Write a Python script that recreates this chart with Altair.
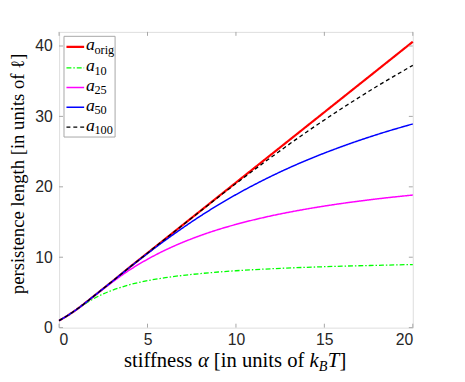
import altair as alt
import pandas as pd

alpha = [0, 0.5, 1, 1.5, 2, 2.5, 3, 4, 5, 6, 7, 8, 9, 10, 12, 14, 16, 18, 20]
a_orig = [1.0, 1.75, 2.6, 3.55, 4.55, 5.55, 6.55, 8.6, 10.6, 12.6, 14.6, 16.6, 18.6, 20.6, 24.6, 28.6, 32.6, 36.6, 40.6]
a_10 = [1.0, 1.75, 2.58, 3.42, 4.17, 4.79, 5.30, 6.10, 6.67, 7.09, 7.42, 7.68, 7.90, 8.08, 8.36, 8.57, 8.73, 8.85, 8.96]
a_25 = [1.0, 1.75, 2.6, 3.55, 4.54, 5.51, 6.45, 8.21, 9.71, 11.01, 12.12, 13.09, 13.93, 14.66, 15.88, 16.85, 17.64, 18.29, 18.83]
a_50 = [1.0, 1.75, 2.6, 3.55, 4.55, 5.55, 6.55, 8.58, 10.53, 12.40, 14.18, 15.86, 17.43, 18.89, 21.51, 23.78, 25.73, 27.44, 28.93]
a_100 = [1.0, 1.75, 2.6, 3.55, 4.55, 5.55, 6.55, 8.6, 10.6, 12.60, 14.59, 16.57, 18.53, 20.46, 24.21, 27.79, 31.15, 34.31, 37.25]

series_names = ["orig", "10", "25", "50", "100"]
series_values = [a_orig, a_10, a_25, a_50, a_100]
series_colors = ["#ff0000", "#00ff00", "#ff00ff", "#0000ff", "#000000"]
series_dash = [[1, 0], [5, 2, 1.5, 2], [1, 0], [1, 0], [4, 3]]
series_width = [2.2, 1.3, 1.5, 1.5, 1.3]

x_ticks = [0, 5, 10, 15, 20]
y_ticks = [0, 10, 20, 30, 40]

W, H = 360, 301
GREY = "#a6a6a6"
TXT = "#262626"
SERIF = "Liberation Serif"

xs = alt.Scale(domain=[0, 20], nice=False, zero=False)
ys = alt.Scale(domain=[0, 42], nice=False, zero=False)

x_axis = alt.Axis(values=x_ticks, ticks=False, grid=False, domain=False,
                  labelFont="Liberation Sans", labelFontSize=16, labelColor=TXT,
                  labelPadding=4, title=None)
y_axis = alt.Axis(values=y_ticks, ticks=False, grid=False, domain=False,
                  labelFont="Liberation Sans", labelFontSize=16, labelColor=TXT,
                  labelPadding=7,
                  title="persistence length [in units of ℓ]",
                  titleFont=SERIF, titleFontSize=19,
                  titleFontWeight="normal", titleColor="#000000",
                  titleX=-36.5, titleY=144, titleBaseline="alphabetic")

layers = []
for name, vals, col, dash, sw in zip(series_names, series_values, series_colors, series_dash, series_width):
    df = pd.DataFrame({"alpha": alpha, "a": vals})
    layers.append(
        alt.Chart(df).mark_line(color=col, strokeDash=dash, strokeWidth=sw, interpolate="monotone").encode(
            x=alt.X("alpha:Q", scale=xs, axis=x_axis),
            y=alt.Y("a:Q", scale=ys, axis=y_axis),
        )
    )

# inward ticks on all four sides
xt = pd.DataFrame({"alpha": x_ticks})
yt = pd.DataFrame({"a": y_ticks})
layers.append(alt.Chart(xt).mark_rule(color=GREY).encode(
    x=alt.X("alpha:Q", scale=xs, axis=x_axis), y=alt.value(H), y2=alt.value(H - 4)))
layers.append(alt.Chart(xt).mark_rule(color=GREY).encode(
    x=alt.X("alpha:Q", scale=xs, axis=x_axis), y=alt.value(0), y2=alt.value(4)))
layers.append(alt.Chart(yt).mark_rule(color=GREY).encode(
    y=alt.Y("a:Q", scale=ys, axis=y_axis), x=alt.value(0), x2=alt.value(4)))
layers.append(alt.Chart(yt).mark_rule(color=GREY).encode(
    y=alt.Y("a:Q", scale=ys, axis=y_axis), x=alt.value(W), x2=alt.value(W - 4)))

one = pd.DataFrame({"k": [0]})

# legend box
layers.append(alt.Chart(one).mark_rect(fill="white", stroke=GREY, strokeWidth=1).encode(
    x=alt.value(5), x2=alt.value(57), y=alt.value(4.5), y2=alt.value(107)))

row_y = [15.3, 36.5, 56.5, 76.7, 97]
for name, col, dash, sw, ry in zip(series_names, series_colors, series_dash, series_width, row_y):
    layers.append(alt.Chart(one).mark_rule(color=col, strokeDash=dash, strokeWidth=sw).encode(
        x=alt.value(7.5), x2=alt.value(25.5), y=alt.value(ry)))
    layers.append(alt.Chart(one).mark_text(align="left", baseline="alphabetic", font=SERIF,
                                           fontStyle="italic", fontSize=18, color="#000000").encode(
        x=alt.value(27.5), y=alt.value(ry + 3.5), text=alt.value("a")))
    layers.append(alt.Chart(one).mark_text(align="left", baseline="alphabetic", font=SERIF,
                                           fontSize=12.5, color="#000000").encode(
        x=alt.value(36), y=alt.value(ry + 7), text=alt.value(name)))

# x-axis title built from pieces (for the subscript)
tb = 341
pieces = [
    ("stiffness", 66, tb, 21, "normal"),
    ("α", 141.3, tb, 21, "italic"),
    ("[in units of", 157.5, tb, 21, "normal"),
    ("k", 254.9, tb, 21, "italic"),
    ("B", 264.3, tb + 4, 14.5, "italic"),
    ("T", 273.5, tb, 21, "italic"),
    ("]", 285.5, tb, 21, "normal"),
]
for txt, px, py, fs, st in pieces:
    layers.append(alt.Chart(one).mark_text(align="left", baseline="alphabetic", font=SERIF,
                                           fontStyle=st, fontSize=fs, color="#000000").encode(
        x=alt.value(px), y=alt.value(py), text=alt.value(txt)))

chart = alt.layer(*layers).properties(
    width=W, height=H,
    autosize=alt.AutoSizeParams(type="none"),
    padding={"left": 52, "top": 21, "right": 45, "bottom": 52},
).configure_view(stroke=GREY, strokeWidth=1).configure_axis(
    titleFont=SERIF, titleFontWeight="normal", labelFont="Liberation Sans"
).configure(background="white")

chart.save("out.html", embed_options={"renderer": "svg", "actions": False})
